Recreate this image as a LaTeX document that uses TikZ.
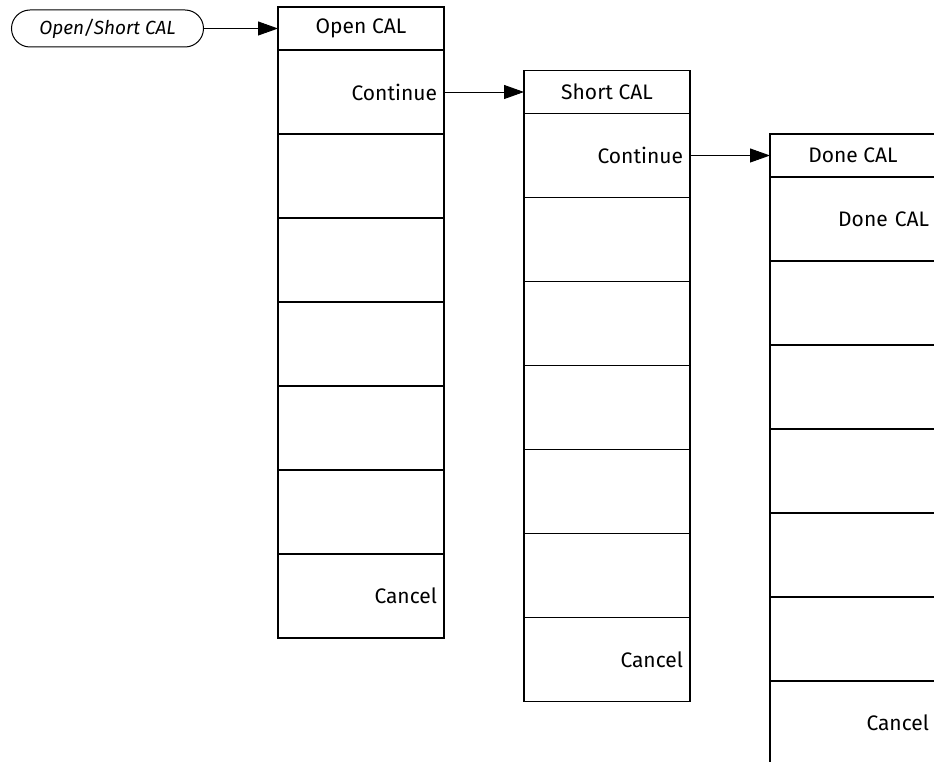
\documentclass[tikz,border=0pt]{standalone}
\usepackage{fontspec}
\setmainfont{Fira Sans}
\usetikzlibrary{positioning,arrows.meta,shapes.misc}

\begin{document}
\begin{tikzpicture}[x=1pt, y=-1pt,
        menubox/.style={draw, line width=1.2pt, outer sep=0pt, minimum width=166pt},
        menuhead/.style={menubox, minimum height=43pt, inner sep=0pt, font=\fontsize{21}{25}\selectfont},
        menukey/.style={menubox, minimum height=84pt, text width=152pt, inner sep=7pt, align=right, font=\fontsize{21}{25}\selectfont},
        startkey/.style={draw, rounded rectangle, line width=1pt, minimum width=192pt, minimum height=37pt, inner sep=0pt, font=\fontsize{19}{23}\selectfont\itshape},
        keyarrow/.style={-{Triangle[length=20pt, width=14pt]}, line width=0.9pt}]
        \useasboundingbox (0,0) rectangle (934,762);
        \node[menuhead, alias=open-0] (open) at (361,28.5) {Open CAL};
        \foreach \txt [count=\i, remember=\i as \j (initially 0)] in {Continue,{},{},{},{},{},Cancel}
            \node[menukey, below=0pt of open-\j] (open-\i) {\txt};
        \node[menuhead, alias=short-0, right=80pt of open-1] (short) {Short CAL};
        \foreach \txt [count=\i, remember=\i as \j (initially 0)] in {Continue,{},{},{},{},{},Cancel}
            \node[menukey, below=0pt of short-\j] (short-\i) {\txt};
        \node[menuhead, alias=done-0, right=80pt of short-1] (done) {Done CAL};
        \foreach \txt [count=\i, remember=\i as \j (initially 0)] in {Done CAL,{},{},{},{},{},Cancel}
            \node[menukey, below=0pt of done-\j] (done-\i) {\txt};
        \node[startkey, left=74pt of open] (start) {Open/Short CAL};
        \draw[keyarrow] (start) -- (open);
        \draw[keyarrow] (open-1) -- (short);
        \draw[keyarrow] (short-1) -- (done);
    \end{tikzpicture}
\end{document}
